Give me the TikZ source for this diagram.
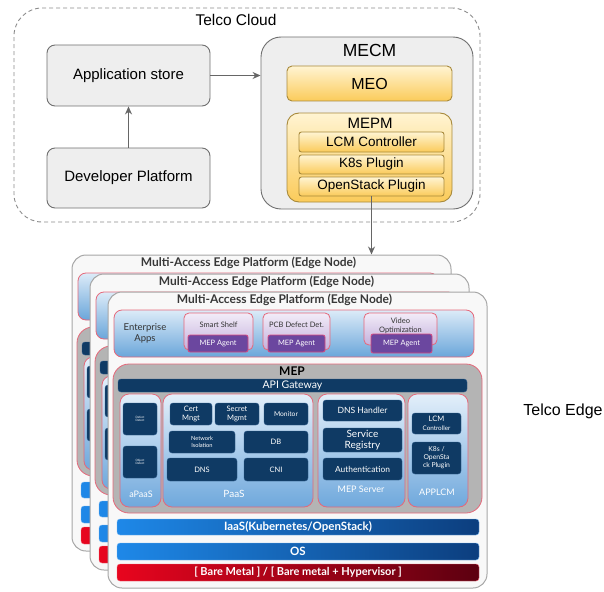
\documentclass[tikz,border=0pt]{standalone}
\usepackage{fontspec}
\setmainfont{Liberation Sans}
\newfontfamily\lato{Lato}
\usetikzlibrary{arrows.meta}
\definecolor{boxgray}{HTML}{EEEEEE}
\definecolor{boxline}{HTML}{6F6F6F}
\definecolor{meotop}{HTML}{FFF4D2}
\definecolor{meobot}{HTML}{FBCB5A}
\definecolor{meoline}{HTML}{A88A3C}
\definecolor{pinkred}{HTML}{E5687A}
\definecolor{bandtop}{HTML}{DCEBF8}
\definecolor{bandbot}{HTML}{6AA6DA}
\definecolor{apptop}{HTML}{F2ECF8}
\definecolor{appbot}{HTML}{C4B0DC}
\definecolor{agentfill}{HTML}{6B479F}
\definecolor{agentline}{HTML}{D94A7E}
\definecolor{mepgray}{HTML}{B4B4B4}
\definecolor{navyfill}{HTML}{0F3A64}
\definecolor{navyline}{HTML}{2E5B8A}
\definecolor{coltop}{HTML}{E3EFFA}
\definecolor{colbot}{HTML}{6FA8DC}
\definecolor{barleft}{HTML}{1E88E8}
\definecolor{barright}{HTML}{0C3E7E}
\definecolor{redleft}{HTML}{E8051E}
\definecolor{redright}{HTML}{5C0010}
\definecolor{edgefill}{HTML}{F8F8F8}
\tikzset{
  cloudbox/.style={draw=black!45, dash pattern=on 4pt off 3pt, rounded corners=28pt, line width=0.9pt},
  graybox/.style={draw=boxline, fill=boxgray, rounded corners=8pt, line width=0.9pt, font=\fontsize{15}{17}\selectfont},
  mecmbox/.style={graybox, rounded corners=20pt},
  orangebox/.style={draw=meoline, top color=meotop, bottom color=meobot, rounded corners=5pt, line width=0.9pt, font=\fontsize{16}{18}\selectfont},
  plugbox/.style={orangebox, rounded corners=2.5pt, font=\fontsize{13.5}{15}\selectfont},
  arr/.style={draw=black!60, line width=1.1pt, -{Stealth[length=8pt,width=7pt]}},
  edgebox/.style={draw=black!35, fill=edgefill, rounded corners=14pt, line width=1pt},
  edgetitle/.style={font=\lato\bfseries\fontsize{12}{14}\selectfont, text=black!78},
  appband/.style={draw=pinkred, top color=bandtop, bottom color=bandbot, rounded corners=8pt, line width=0.8pt},
  appbox/.style={draw=pinkred, top color=apptop, bottom color=appbot, rounded corners=5pt, line width=0.8pt},
  apptext/.style={align=center, text=black!80, font=\lato\fontsize{7.5}{8.5}\selectfont},
  agent/.style={draw=agentline, fill=agentfill, rounded corners=2pt, line width=0.8pt, text=white, font=\lato\fontsize{7.4}{8.5}\selectfont},
  mepbox/.style={draw=pinkred, fill=mepgray, rounded corners=16pt, line width=0.8pt},
  navy/.style={draw=navyline, fill=navyfill, rounded corners=3pt, text=white, align=center, inner sep=0pt, font=\lato\fontsize{7.5}{8.5}\selectfont},
  col/.style={draw=pinkred, top color=coltop, bottom color=colbot, rounded corners=9pt, line width=0.8pt},
  collabel/.style={text=white, font=\lato\fontsize{9}{10}\selectfont},
  bluebar/.style={left color=barleft, right color=barright, draw=barleft!60!white, rounded corners=3pt, text=white, font=\lato\bfseries\fontsize{11.5}{13}\selectfont},
  redbar/.style={bluebar, left color=redleft, right color=redright, draw=redleft!60!white, font=\lato\bfseries\fontsize{11}{13}\selectfont},
}
% texts of the hidden back layers are left out
\newif\ifshowtext
\showtexttrue
\newcommand{\tx}[1]{\ifshowtext#1\fi}
% box from corner (#3,#4) to corner (#5,#6)
\newcommand{\blk}[7]{\node[#1, inner sep=0pt, minimum width={(#5-#3)*1pt}, minimum height={(#6-#4)*1pt}] (#2) at ({(#3+#5)/2},{(#4+#6)/2}) {\tx{#7}};}
% one edge node, shifted by (#1,#2), names end in #3
\newcommand{\edgelayer}[3]{%
  \begin{scope}[shift={(#1,#2)}]
    % frame
    \blk{edgebox}{frame#3}{108}{292}{487}{588}{}
    \node[edgetitle] (title#3) at (284.5,300) {Multi-Access Edge Platform (Edge Node)};
    % enterprise apps
    \blk{appband}{apps#3}{114}{310}{474}{357}{}
    \node[apptext, font=\lato\fontsize{9.5}{11}\selectfont] (appsname#3) at (145,333) {\tx{Enterprise\\Apps}};
    \blk{appbox}{shelf#3}{184}{313}{253}{350}{}
    \node[apptext] (shelfname#3) at (218.5,325) {\tx{Smart Shelf}};
    \blk{agent}{shelfagent#3}{188}{335}{248}{352}{MEP Agent}
    \blk{appbox}{pcb#3}{263}{313}{330}{350}{}
    \node[apptext] (pcbname#3) at (296.5,325) {\tx{PCB Defect Det.}};
    \blk{agent}{pcbagent#3}{268}{335}{325}{352}{MEP Agent}
    \blk{appbox}{video#3}{364}{313}{437}{345}{}
    \node[apptext] (videoname#3) at (400.5,326) {\tx{Video\\Optimization}};
    \blk{agent}{videoagent#3}{371}{334}{432}{353}{MEP Agent}
    % mep
    \blk{mepbox}{mep#3}{113}{364}{482}{513}{}
    \node[font=\lato\bfseries\fontsize{12}{14}\selectfont] (mepname#3) at (292,371) {\tx{MEP}};
    \blk{navy, font=\lato\fontsize{10.5}{12}\selectfont}{api#3}{118}{379}{467}{392}{API Gateway}
    % apaas
    \blk{col}{apaas#3}{120}{394}{161}{507}{}
    \blk{navy, font=\lato\fontsize{3}{3.5}\selectfont}{defect#3}{123}{403}{157}{435}{Defect\\Detect}
    \blk{navy, font=\lato\fontsize{3}{3.5}\selectfont}{object#3}{123}{446}{157}{478}{Object\\Detect}
    \node[collabel] (apaasname#3) at (141,494) {\tx{aPaaS}};
    % paas
    \blk{col}{paas#3}{163}{394}{313}{507}{}
    \blk{navy}{cert#3}{170}{403}{212}{425}{Cert\\Mngt}
    \blk{navy}{secret#3}{215}{403}{259}{425}{Secret\\Mgmt}
    \blk{navy, font=\lato\fontsize{6.7}{8}\selectfont}{monitor#3}{264}{403}{308}{425}{Monitor}
    \blk{navy, font=\lato\fontsize{5.7}{7}\selectfont}{netiso#3}{169}{431}{235}{453}{Network\\Isolation}
    \blk{navy}{db#3}{244}{431}{308}{453}{DB}
    \blk{navy}{dns#3}{167}{458}{237}{481}{DNS}
    \blk{navy}{cni#3}{244}{458}{308}{481}{CNI}
    \node[collabel, font=\lato\fontsize{10}{12}\selectfont] (paasname#3) at (234,494) {\tx{PaaS}};
    % mep server
    \blk{col}{server#3}{318}{394}{405}{507}{}
    \blk{navy, font=\lato\fontsize{8.6}{10}\selectfont}{dnsh#3}{323}{400}{402}{421}{DNS Handler}
    \blk{navy, font=\lato\fontsize{10}{11}\selectfont}{registry#3}{323}{428}{402}{452}{Service\\Registry}
    \blk{navy, font=\lato\fontsize{8.4}{10}\selectfont}{auth#3}{323}{458}{402}{480}{Authentication}
    \node[collabel] (servername#3) at (361,489) {\tx{MEP Server}};
    % applcm
    \blk{col}{applcm#3}{408}{394}{468}{507}{}
    \blk{navy}{lcmc#3}{412}{413}{461}{434}{LCM\\{\fontsize{6.3}{7}\selectfont Controller}}
    \blk{navy, font=\lato\fontsize{6.8}{8}\selectfont}{k8sp#3}{412}{442}{461}{474}{K8s /\\OpenSta\\ck Plugin}
    \node[collabel] (applcmname#3) at (437,492) {\tx{APPLCM}};
    % lower layers
    \blk{bluebar}{iaas#3}{117}{519}{479}{535}{IaaS(Kubernetes/OpenStack)}
    \blk{bluebar}{os#3}{117}{543}{479}{560}{OS}
    \blk{redbar}{bare#3}{117}{564}{479}{581}{[ Bare Metal ] / [ Bare metal + Hypervisor ]}
  \end{scope}}

\begin{document}
\begin{tikzpicture}[x=1pt, y=-1pt]
  \useasboundingbox (0,0) rectangle (604,591);
  % telco cloud
  \blk{cloudbox}{cloud}{14}{8}{480}{222}{}
  \node[font=\fontsize{15.5}{18}\selectfont] (cloudname) at (236,20) {Telco Cloud};
  \blk{graybox}{appstore}{47}{45}{210}{106}{Application store}
  \blk{graybox}{devplat}{47}{148}{210}{208}{Developer Platform}
  \blk{mecmbox}{mecm}{261}{37}{473}{209}{}
  \node[font=\fontsize{17.5}{20}\selectfont] (mecmname) at (369.5,50) {MECM};
  \blk{orangebox}{meo}{287}{66}{452}{101}{MEO}
  \blk{orangebox, rounded corners=12pt}{mepm}{287}{113}{452}{202}{}
  \node[font=\fontsize{15}{17}\selectfont] (mepmname) at (370,123) {MEPM};
  \blk{plugbox}{lcm}{299}{132}{444}{152}{LCM Controller}
  \blk{plugbox}{k8s}{299}{155}{444}{174}{K8s Plugin}
  \blk{plugbox}{osplug}{299}{177}{444}{196}{OpenStack Plugin}
  \draw[arr] (devplat.north) -- (appstore.south);
  \draw[arr] (appstore.east) -- (appstore.east -| mecm.west);
  % telco edge
  \showtextfalse
  \edgelayer{-36}{-37}{A}
  \edgelayer{-18}{-18}{B}
  \showtexttrue
  \edgelayer{0}{0}{C}
  \draw[arr] (osplug.south) -- (osplug.south |- frameA.north);
  \node[font=\fontsize{16}{19}\selectfont] (edgename) at (563,411) {Telco Edge};
\end{tikzpicture}
\end{document}
